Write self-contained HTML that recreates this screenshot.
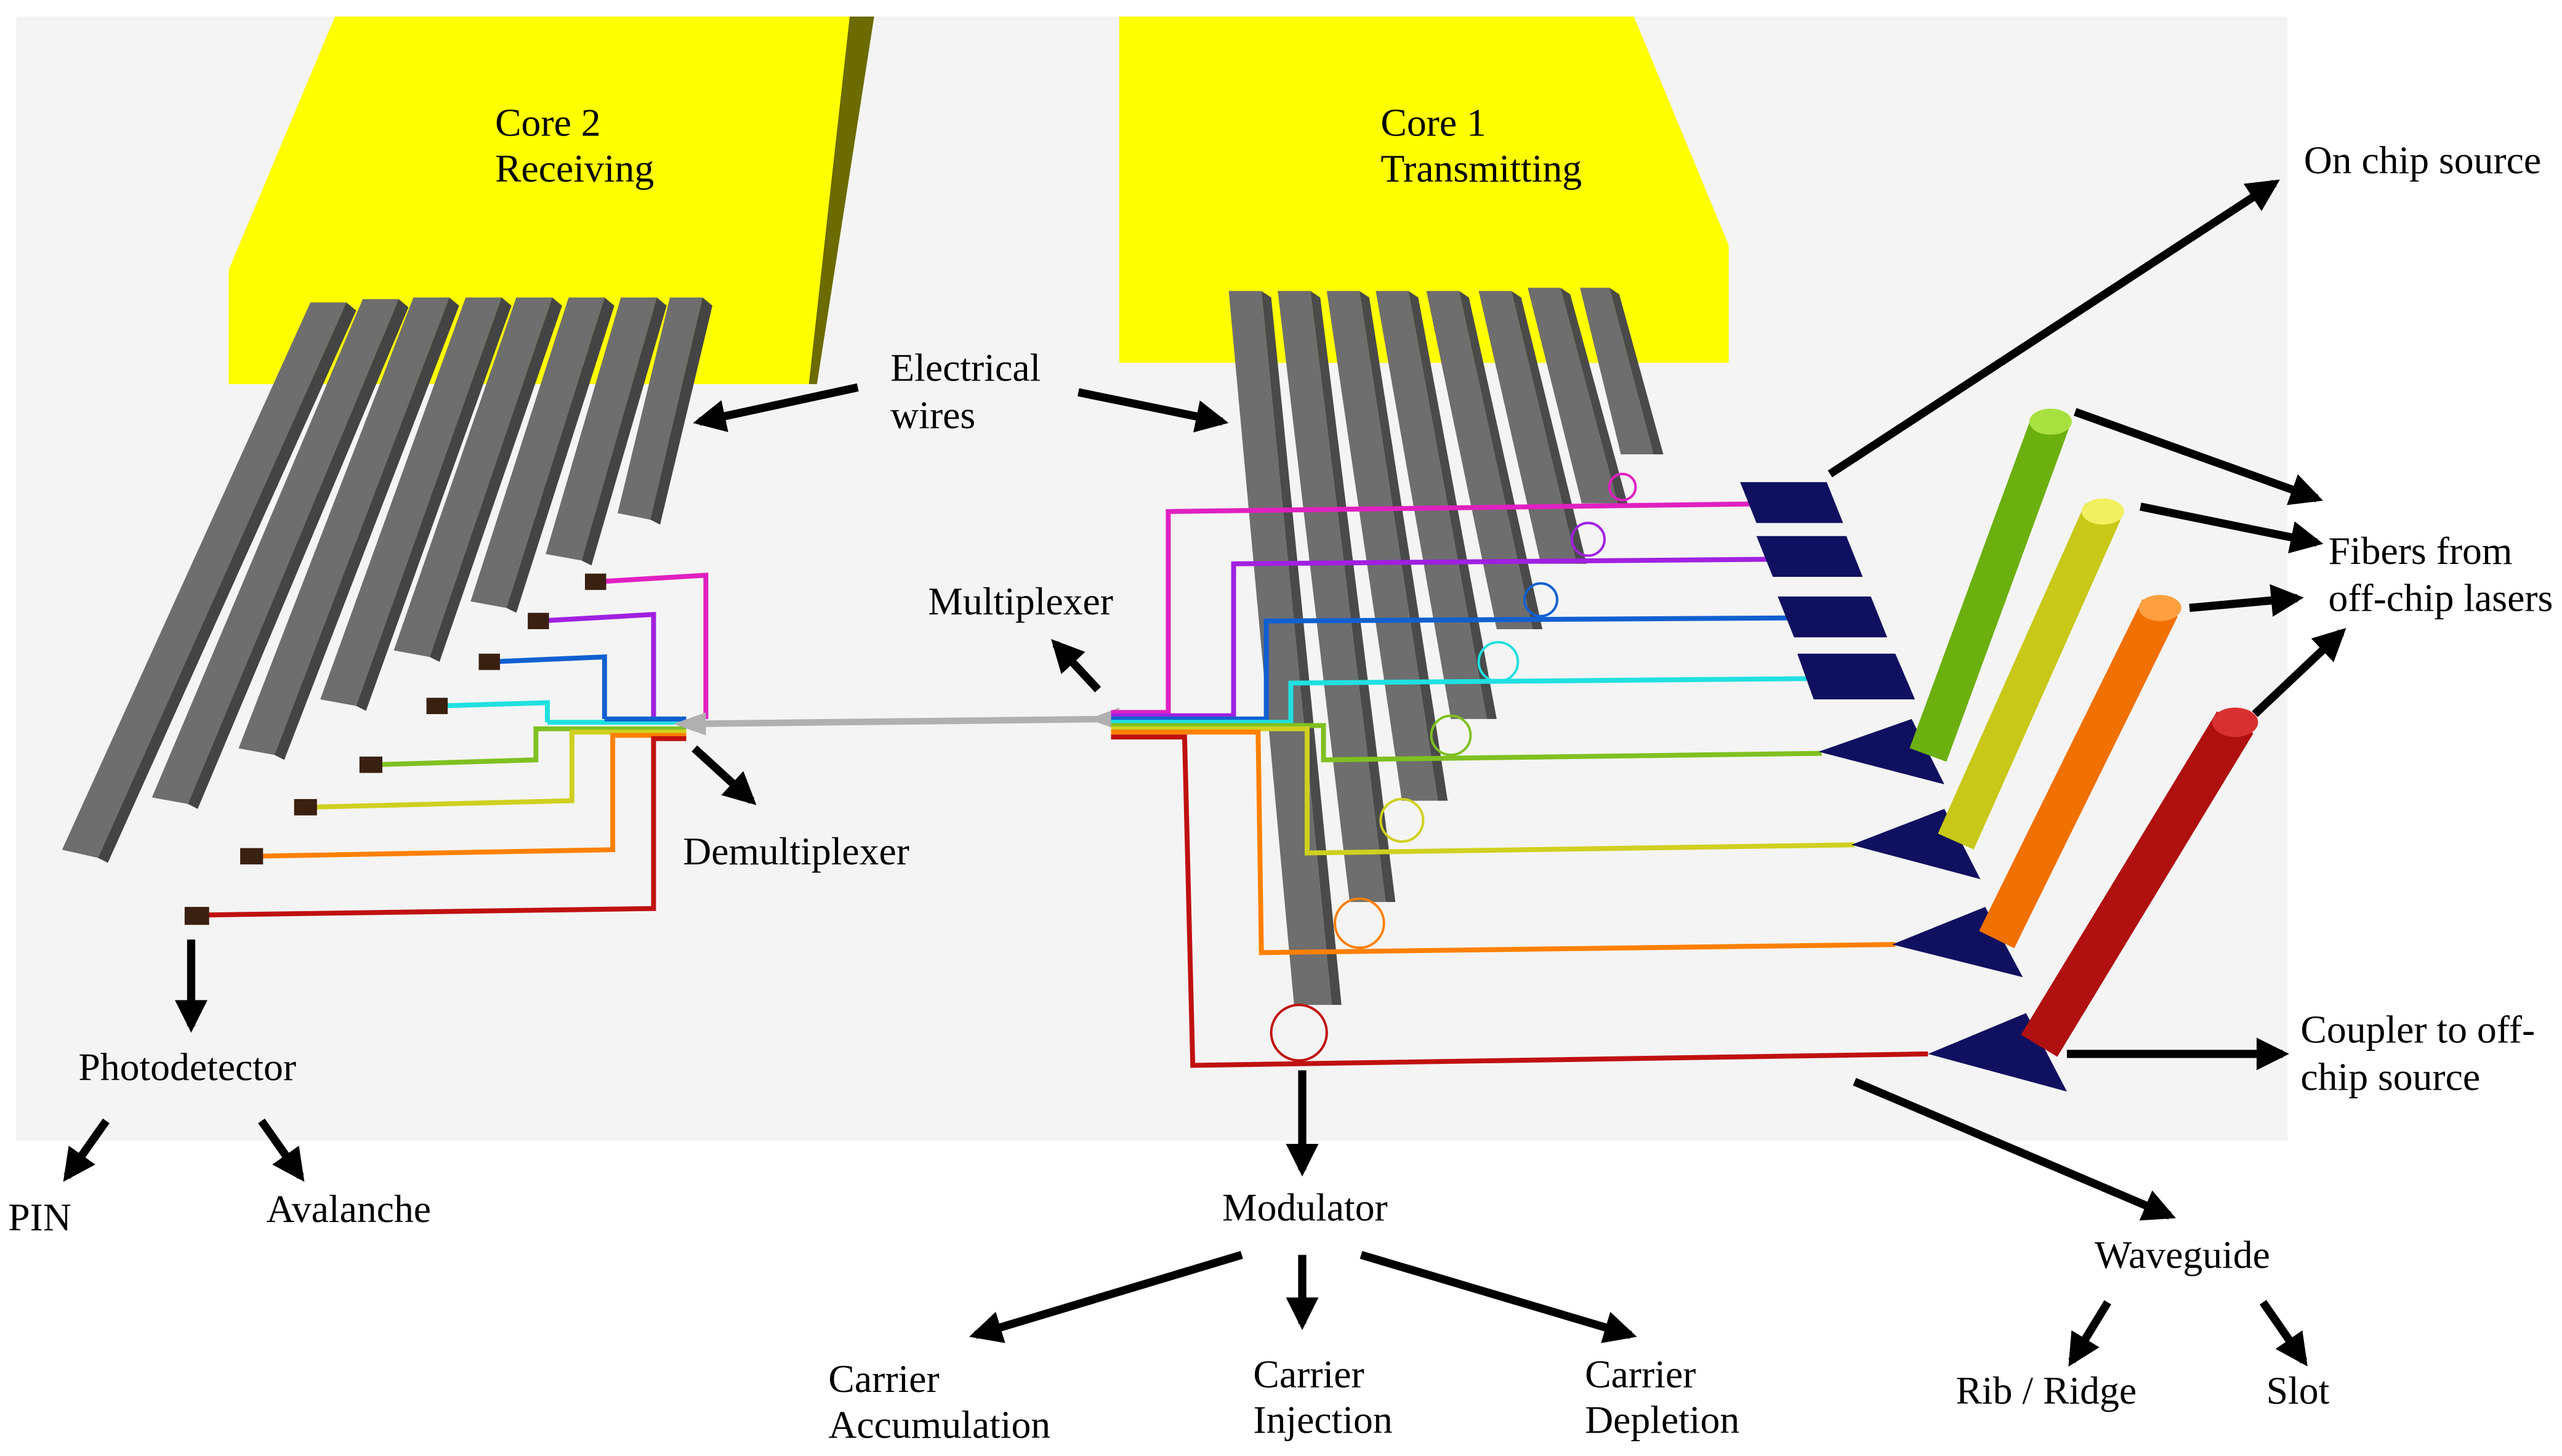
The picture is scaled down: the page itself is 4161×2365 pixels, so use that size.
<!DOCTYPE html>
<html><head><meta charset="utf-8"><style>
html,body{margin:0;padding:0;background:#fff;}
svg{display:block;}
text{font-family:"Liberation Serif",serif;font-size:24px;fill:#000;}
</style></head><body>
<svg width="4161" height="2365" viewBox="0 0 1568 891" xmlns="http://www.w3.org/2000/svg">
<defs>
<marker id="ah" viewBox="0 0 10 10" refX="8" refY="5" markerWidth="4" markerHeight="4" orient="auto-start-reverse" markerUnits="strokeWidth">
<path d="M0,0 L10,5 L0,10 z" fill="#000"/></marker>
</defs>
<rect x="0" y="0" width="1568" height="891" fill="#fff"/>
<rect x="10" y="10" width="1390" height="688" fill="#f4f4f4"/>

<polygon points="520,10 535,10 500,235 495,235" fill="#6b6b00"/>
<polygon points="205,10 520,10 495,235 140,235 140,165" fill="#ffff00"/>
<text x="303" y="83">Core 2</text><text x="303" y="111">Receiving</text>
<polygon points="685,10 1000,10 1058,150 1058,222 685,222" fill="#ffff00"/>
<text x="845" y="83">Core 1</text><text x="845" y="111">Transmitting</text>

<g>
<polygon points="190,185 212,185 60,525 38,520" fill="#6e6e6e"/>
<polygon points="212,185 218,190 66,528 60,525" fill="#444"/>
<polygon points="222,183 244,183 115,492 93,488" fill="#6e6e6e"/>
<polygon points="244,183 250,188 121,495 115,492" fill="#444"/>
<polygon points="253,182 275,182 168,462 146,458" fill="#6e6e6e"/>
<polygon points="275,182 281,187 174,465 168,462" fill="#444"/>
<polygon points="285,182 307,182 218,432 196,428" fill="#6e6e6e"/>
<polygon points="307,182 313,187 224,435 218,432" fill="#444"/>
<polygon points="316,182 338,182 263,402 241,398" fill="#6e6e6e"/>
<polygon points="338,182 344,187 269,405 263,402" fill="#444"/>
<polygon points="348,182 370,182 310,372 288,368" fill="#6e6e6e"/>
<polygon points="370,182 376,187 316,375 310,372" fill="#444"/>
<polygon points="380,182 402,182 356,343 334,339" fill="#6e6e6e"/>
<polygon points="402,182 408,187 362,346 356,343" fill="#444"/>
<polygon points="410,182 430,182 398,318 378,314" fill="#6e6e6e"/>
<polygon points="430,182 436,187 404,321 398,318" fill="#444"/>
</g>
<g>
<polygon points="772,178 778,182 821,615 815,615" fill="#4a4a4a"/>
<polygon points="752,178 772,178 815,615 792,615" fill="#6e6e6e"/>
<polygon points="802,178 808,182 854,552 848,552" fill="#4a4a4a"/>
<polygon points="782,178 802,178 848,552 826,552" fill="#6e6e6e"/>
<polygon points="832,178 838,182 886,490 880,490" fill="#4a4a4a"/>
<polygon points="812,178 832,178 880,490 858,490" fill="#6e6e6e"/>
<polygon points="862,178 868,182 916,440 910,440" fill="#4a4a4a"/>
<polygon points="842,178 862,178 910,440 888,440" fill="#6e6e6e"/>
<polygon points="893,178 899,182 944,385 938,385" fill="#4a4a4a"/>
<polygon points="873,178 893,178 938,385 916,385" fill="#6e6e6e"/>
<polygon points="925,178 931,182 971,345 965,345" fill="#4a4a4a"/>
<polygon points="905,178 925,178 965,345 943,345" fill="#6e6e6e"/>
<polygon points="955,176 961,180 996,308 990,308" fill="#4a4a4a"/>
<polygon points="935,176 955,176 990,308 968,308" fill="#6e6e6e"/>
<polygon points="985,176 991,180 1018,278 1012,278" fill="#4a4a4a"/>
<polygon points="967,176 985,176 1012,278 992,278" fill="#6e6e6e"/>
</g>

<g fill="none" stroke-width="3">
<polyline points="365,356 432,352 432,440" stroke="#e020c0"/>
<polyline points="330,380 400,376 400,440" stroke="#a020e0"/>
<polyline points="300,405 370,402 370,440" stroke="#1060d0"/>
<polyline points="268,432 335,430 335,442" stroke="#20e0e0"/>
<polyline points="228,468 328,465 328,446 420,446" stroke="#80c020"/>
<polyline points="188,494 350,490 350,448 420,448" stroke="#d0d020"/>
<polyline points="155,524 375,520 375,450 420,450" stroke="#ff8000"/>
<polyline points="122,560 400,556 400,452 420,452" stroke="#c01010"/>
<polyline points="335,442 420,442" stroke="#20e0e0"/>
<polyline points="370,440 420,440" stroke="#1060d0"/>
</g>
<g fill="#3a2010">
<rect x="358" y="351" width="13" height="10"/><rect x="323" y="375" width="13" height="10"/>
<rect x="293" y="400" width="13" height="10"/><rect x="261" y="427" width="13" height="10"/>
<rect x="220" y="463" width="14" height="10"/><rect x="180" y="489" width="14" height="10"/>
<rect x="147" y="519" width="14" height="10"/><rect x="113" y="555" width="15" height="11"/>
</g>
<line x1="420" y1="443" x2="680" y2="440" stroke="#b0b0b0" stroke-width="4"/>
<polygon points="412,443 432,436 432,450" fill="#b0b0b0"/>
<polygon points="666,440 685,433 685,447" fill="#b0b0b0"/>

<g fill="none" stroke-width="3">
<polyline points="680,436 715,436 715,313 1100,308" stroke="#e020c0"/>
<polyline points="680,438 755,438 755,345 1110,342" stroke="#a020e0"/>
<polyline points="680,440 775,440 775,380 1120,378" stroke="#1060d0"/>
<polyline points="680,442 790,442 790,418 1140,415" stroke="#20e0e0"/>
<polyline points="680,444 810,444 810,465 1115,461" stroke="#80c020"/>
<polyline points="680,446 800,446 800,522 1135,517" stroke="#d0d020"/>
<polyline points="680,448 770,448 772,583 1160,578" stroke="#ff8000"/>
<polyline points="680,451 725,451 730,652 1180,645" stroke="#c01010"/>
</g>
<g fill="none" stroke-width="1.5">
<circle cx="993" cy="298" r="8" stroke="#e020c0"/>
<circle cx="972" cy="330" r="10" stroke="#a020e0"/>
<circle cx="943" cy="367" r="10" stroke="#1060d0"/>
<circle cx="917" cy="405" r="12" stroke="#20e0e0"/>
<circle cx="888" cy="450" r="12" stroke="#80c020"/>
<circle cx="858" cy="502" r="13" stroke="#d0d020"/>
<circle cx="832" cy="565" r="15" stroke="#ff8000"/>
<circle cx="795" cy="632" r="17" stroke="#c01010"/>
</g>

<g fill="#101060">
<polygon points="1065,295 1118,295 1128,320 1075,320"/>
<polygon points="1075,328 1130,328 1140,353 1085,353"/>
<polygon points="1088,365 1145,365 1155,390 1098,390"/>
<polygon points="1100,400 1160,400 1172,428 1110,428"/>
<polygon points="1113,460 1170,440 1190,480"/>
<polygon points="1133,517 1190,495 1212,538"/>
<polygon points="1158,578 1215,555 1238,598"/>
<polygon points="1180,645 1240,620 1265,668"/>
</g>

<g stroke-linecap="butt">
<line x1="1180" y1="462" x2="1255" y2="258" stroke="#6cb010" stroke-width="24"/>
<ellipse cx="1255" cy="258" rx="13" ry="8" fill="#a8e040"/>
<line x1="1197" y1="515" x2="1287" y2="313" stroke="#c8c818" stroke-width="24"/>
<ellipse cx="1287" cy="313" rx="13" ry="8" fill="#f0f060"/>
<line x1="1222" y1="575" x2="1322" y2="372" stroke="#f07000" stroke-width="24"/>
<ellipse cx="1322" cy="372" rx="13" ry="8" fill="#ffa040"/>
<line x1="1248" y1="640" x2="1368" y2="442" stroke="#b01010" stroke-width="26"/>
<ellipse cx="1368" cy="442" rx="14" ry="9" fill="#d83030"/>
</g>

<g stroke="#000" stroke-width="5" marker-end="url(#ah)">
<line x1="525" y1="237" x2="428" y2="258"/>
<line x1="660" y1="240" x2="748" y2="258"/>
<line x1="1120" y1="290" x2="1392" y2="112"/>
<line x1="1270" y1="252" x2="1418" y2="305"/>
<line x1="1310" y1="310" x2="1418" y2="332"/>
<line x1="1340" y1="372" x2="1406" y2="366"/>
<line x1="1380" y1="437" x2="1433" y2="387"/>
<line x1="1265" y1="645" x2="1397" y2="645"/>
<line x1="1135" y1="662" x2="1328" y2="744"/>
<line x1="797" y1="655" x2="797" y2="716"/>
<line x1="760" y1="768" x2="597" y2="817"/>
<line x1="797" y1="768" x2="797" y2="810"/>
<line x1="833" y1="768" x2="998" y2="817"/>
<line x1="1290" y1="797" x2="1268" y2="833"/>
<line x1="1385" y1="797" x2="1410" y2="833"/>
<line x1="117" y1="575" x2="117" y2="628"/>
<line x1="65" y1="686" x2="41" y2="720"/>
<line x1="160" y1="686" x2="184" y2="720"/>
<line x1="672" y1="422" x2="646" y2="394"/>
<line x1="425" y1="458" x2="460" y2="490"/>
</g>

<text x="545" y="233">Electrical</text><text x="545" y="262">wires</text>
<text x="1410" y="106">On chip source</text>
<text x="1425" y="345">Fibers from</text><text x="1425" y="374">off-chip lasers</text>
<text x="568" y="376">Multiplexer</text>
<text x="418" y="529">Demultiplexer</text>
<text x="1408" y="638">Coupler to off-</text><text x="1408" y="667">chip source</text>
<text x="48" y="661">Photodetector</text>
<text x="5" y="753">PIN</text>
<text x="163" y="748">Avalanche</text>
<text x="748" y="747">Modulator</text>
<text x="1282" y="776">Waveguide</text>
<text x="507" y="852">Carrier</text><text x="507" y="880">Accumulation</text>
<text x="767" y="849">Carrier</text><text x="767" y="877">Injection</text>
<text x="970" y="849">Carrier</text><text x="970" y="877">Depletion</text>
<text x="1197" y="859">Rib / Ridge</text>
<text x="1387" y="859">Slot</text>
</svg>
</body></html>
